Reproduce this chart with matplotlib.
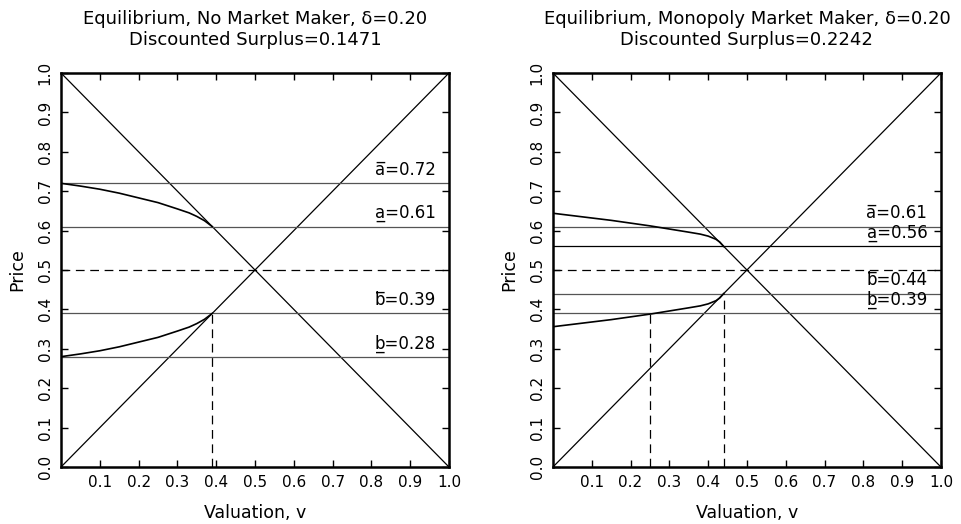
import matplotlib
matplotlib.use('Agg')
import matplotlib.pyplot as plt
import numpy as np

plt.rcParams['font.family'] = 'DejaVu Sans'

# left panel: no market maker
v_left = [0.0, 0.05, 0.10, 0.15, 0.20, 0.25, 0.30, 0.33, 0.35, 0.37, 0.39]
ask_left = [0.72, 0.713, 0.705, 0.695, 0.683, 0.671, 0.655, 0.645, 0.636, 0.625, 0.61]
bid_left = [0.28, 0.287, 0.295, 0.305, 0.317, 0.329, 0.345, 0.355, 0.364, 0.375, 0.39]
levels_left = [0.72, 0.61, 0.39, 0.28]
vlines_left = [(0.39, 0.39)]
title_left = 'Equilibrium, No Market Maker, δ=0.20\nDiscounted Surplus=0.1471'

# right panel: monopoly market maker
v_right = [0.0, 0.05, 0.10, 0.15, 0.20, 0.25, 0.30, 0.35, 0.38, 0.40, 0.42, 0.43, 0.44]
ask_right = [0.644, 0.638, 0.632, 0.626, 0.619, 0.612, 0.604, 0.596, 0.591, 0.586, 0.578, 0.571, 0.56]
bid_right = [0.356, 0.362, 0.368, 0.374, 0.381, 0.388, 0.396, 0.404, 0.409, 0.414, 0.422, 0.429, 0.44]
levels_right = [0.61, 0.56, 0.44, 0.39]
vlines_right = [(0.25, 0.39), (0.44, 0.44)]
title_right = 'Equilibrium, Monopoly Market Maker, δ=0.20\nDiscounted Surplus=0.2242'

# overline / underline via combining marks
level_names = ['a\u0305', 'a\u0332', 'b\u0305', 'b\u0332']

fig = plt.figure(figsize=(9.61, 5.24), dpi=100)
ax1 = fig.add_axes([0.0635, 0.1088, 0.4037, 0.7519])
ax2 = fig.add_axes([0.5754, 0.1088, 0.4037, 0.7519])

DASH = (0, (7, 4.5))


def draw_panel(ax, v, ask, bid, levels, vlines, title, line_colors):
    grid = [0.0, 1.0]
    ax.plot(grid, grid, color='black', lw=0.9)
    ax.plot(grid, [1 - g for g in grid], color='black', lw=0.9)
    for lev, name, c in zip(levels, level_names, line_colors):
        ax.axhline(lev, color=c, lw=0.9)
        ax.annotate('%s=%.2f' % (name, lev), xy=(0.965, lev), xycoords='data',
                    xytext=(0, 3), textcoords='offset points',
                    ha='right', va='bottom', fontsize=12)
    ax.axhline(0.5, color='black', lw=0.9, linestyle=DASH)
    for x, top in vlines:
        ax.plot([x, x], [0, top], color='black', lw=0.9, linestyle=DASH)
    ax.plot(v, ask, color='black', lw=1.2)
    ax.plot(v, bid, color='black', lw=1.2)

    ax.set_xlim(0, 1)
    ax.set_ylim(0, 1)
    ax.set_xticks(np.arange(1, 11) / 10)
    ax.set_yticks(np.arange(0, 11) / 10)
    ax.set_xticklabels(['%.1f' % t for t in np.arange(1, 11) / 10])
    ax.set_yticklabels(['%.1f' % t for t in np.arange(0, 11) / 10],
                       rotation=90, va='center')
    ax.tick_params(direction='in', length=5, width=1, top=True, right=True,
                   labelsize=11, pad=6)
    for s in ax.spines.values():
        s.set_linewidth(1.8)
    ax.set_xlabel('Valuation, v', fontsize=12.5, labelpad=10)
    ax.set_ylabel('Price', fontsize=12.5, labelpad=8)
    ax.set_title(title, fontsize=13, pad=20, linespacing=1.25)


gray = '#555555'
draw_panel(ax1, v_left, ask_left, bid_left, levels_left, vlines_left, title_left,
           [gray, gray, gray, gray])
draw_panel(ax2, v_right, ask_right, bid_right, levels_right, vlines_right, title_right,
           [gray, 'black', gray, gray])

fig.savefig('out.png', dpi=100)
